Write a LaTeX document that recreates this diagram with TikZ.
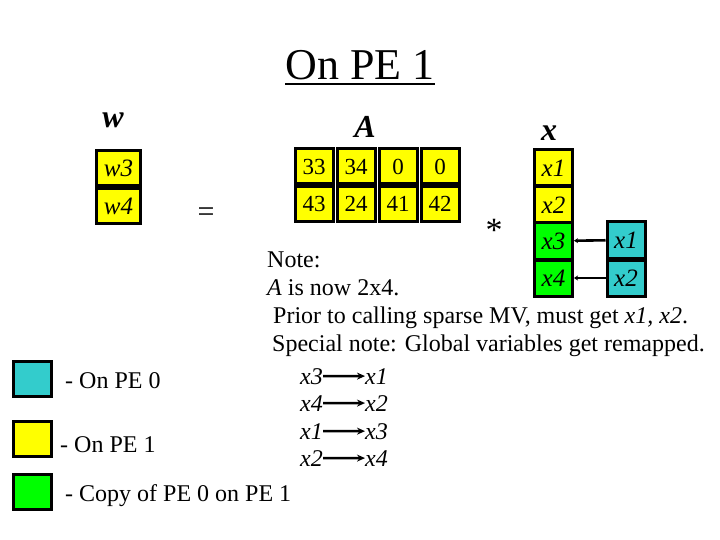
\documentclass[tikz,border=0pt]{standalone}
\usepackage{fontspec}
\setmainfont{Liberation Serif}
\usetikzlibrary{arrows.meta,positioning,calc}
\definecolor{peyellow}{HTML}{FFFF00}
\definecolor{pecyan}{HTML}{33CCCC}
\definecolor{pegreen}{HTML}{00FF00}
\begin{document}
\begin{tikzpicture}[x=1pt,y=-1pt,
  cell/.style={draw,line width=3pt,minimum width=#1,minimum height=35pt,inner sep=0pt,font=\fontsize{23}{26}\selectfont},
  cell/.default=40pt,
  vcell/.style={cell=#1,font=\fontsize{25}{28}\selectfont\itshape},
  txt/.style={anchor=base west,inner sep=1pt,font=\fontsize{24}{28}\selectfont},
  lbl/.style={font=\fontsize{32}{36}\selectfont\bfseries\itshape}]
\useasboundingbox (0,0) rectangle (720,540);
% title
\node[anchor=base,inner sep=0pt,font=\fontsize{44}{50}\selectfont] (title) at (360,80) {On PE 1};
\draw[line width=2.6pt] ($(title.base west)+(0,4)$) -- ($(title.base east)+(0,4)$);
\node[lbl,anchor=base] (wlbl) at (113,128) {w};
\node[lbl,anchor=base] (albl) at (365,138) {A};
\node[lbl,anchor=base] (xlbl) at (549,141) {x};
% w vector
\node[vcell=44pt,fill=peyellow] (w3) at (118.5,168) {w3};
\node[vcell=44pt,fill=peyellow] (w4) at (118.5,206) {w4};
\node[font=\fontsize{30}{34}\selectfont] (eq) at (206,215) {=};
% matrix A
\foreach \c/\a/\b [count=\i] in {314/33/43,356/34/24,398/0/41,440/0/42}{
  \node[cell=38pt,fill=peyellow] (a1\i) at (\c,166.5) {\a};
  \node[cell=38pt,fill=peyellow] (a2\i) at (\c,204) {\b};}
\node[font=\fontsize{34}{38}\selectfont] (star) at (494,230) {*};
% x vector
\node[vcell=38pt,minimum height=36pt,fill=peyellow] (x1) at (553.5,168) {x1};
\node[vcell=38pt,minimum height=36pt,fill=peyellow] (x2) at (553.5,205) {x2};
\node[vcell=38pt,minimum height=36pt,fill=pegreen] (x3) at (553.5,241) {x3};
\node[vcell=38pt,minimum height=36pt,fill=pegreen] (x4) at (553.5,278) {x4};
\node[vcell=38pt,minimum height=36pt,fill=pecyan] (c1) at (626,240) {x1};
\node[vcell=38pt,minimum height=36pt,fill=pecyan] (c2) at (626,278) {x2};
\draw[line width=2.6pt,-{Stealth[length=4pt,width=5pt]}] (c1) -- (x3);
\draw[line width=2.6pt,-{Stealth[length=4pt,width=5pt]}] (c2) -- (x4);
% note
\node[txt] (n1) at (266,267) {Note:};
\node[txt] (n2) at (266,295) {\textit{A} is now 2x4.};
\node[txt] (n3) at (272,323) {Prior to calling sparse MV, must get \textit{x1, x2}.};
\node[txt] (n4) at (271,351) {Special note: Global variables get remapped.};
% remapping
\foreach \y/\a/\b [count=\i] in {384/3/1,411/4/2,439/1/3,466/2/4}{
  \node[txt,inner sep=0pt] (ml\i) at (300,\y) {\textit{x\a}};
  \node[txt,inner sep=0pt] (mr\i) at (365,\y) {\textit{x\b}};
  \draw[line width=2.6pt,-{Stealth[length=8pt,width=7pt]}] (ml\i) -- (mr\i);}
% legend
\node[cell=38pt,fill=pecyan] (k0) at (32.5,379) {};
\node[txt] (t0) at (64,388) {- On PE 0};
\node[cell=38pt,fill=peyellow] (k1) at (32.5,439) {};
\node[txt] (t1) at (59,452) {- On PE 1};
\node[cell=38pt,fill=pegreen] (k2) at (32.5,491.5) {};
\node[txt] (t2) at (64,501) {- Copy of PE 0 on PE 1};
\end{tikzpicture}
\end{document}
